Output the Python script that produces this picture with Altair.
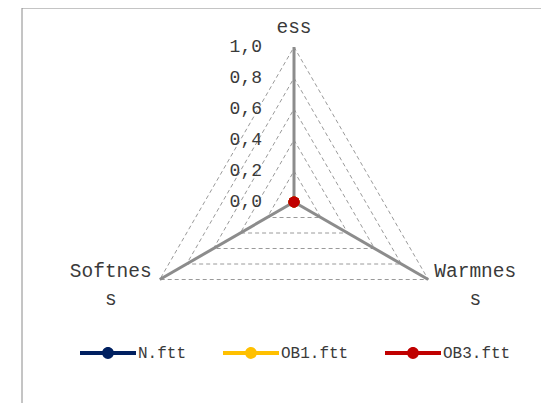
import altair as alt
import pandas as pd

# ---------------- data ----------------
categories = ["ess", "Warmness", "Softness"]          # clockwise from top
series_names = ["N.ftt", "OB1.ftt", "OB3.ftt"]
series_colors = ["#002060", "#FFC000", "#C00000"]
n_ftt = [0.0, 0.0, 0.0]
ob1_ftt = [0.0, 0.0, 0.0]
ob3_ftt = [0.0, 0.0, 0.0]
tick_values = [0.0, 0.2, 0.4, 0.6, 0.8, 1.0]

# ---------------- layout ----------------
W, H = 519, 395          # plot area
CX, CY = 272, 194        # centre of the radar, pixels inside plot
R = 155                  # pixel radius of 1.0
FONT = "Liberation Mono"
TXT = "#3a3a3a"
GRID = "#9a9a9a"
SPOKE = "#8c8c8c"

xs = alt.Scale(domain=[-CX / R, (W - CX) / R], nice=False, zero=False)
ys = alt.Scale(domain=[-(H - CY) / R, CY / R], nice=False, zero=False)
n = len(categories)

# grid rows (closed triangles)
grid_rows = []
for lv in tick_values[1:]:
    for k in range(n + 1):
        grid_rows.append({"level": lv, "idx": k % n, "ord": k})
grid_df = pd.DataFrame(grid_rows)

spoke_df = pd.DataFrame({"cat": categories, "idx": list(range(n))})

vals = {"N.ftt": n_ftt, "OB1.ftt": ob1_ftt, "OB3.ftt": ob3_ftt}
ser_rows = []
for s in series_names:
    for k in range(n + 1):
        ser_rows.append({"series": s, "idx": k % n, "ord": k, "value": vals[s][k % n]})
ser_df = pd.DataFrame(ser_rows)

tick_df = pd.DataFrame({"v": tick_values})

PI2 = "2*PI/%d" % n

def polar(r_expr):
    return dict(
        x=f"({r_expr})*sin(datum.idx*{PI2})",
        y=f"({r_expr})*cos(datum.idx*{PI2})",
    )

grid = (
    alt.Chart(grid_df)
    .transform_calculate(**polar("datum.level"))
    .mark_line(stroke=GRID, strokeWidth=1, strokeDash=[4, 3])
    .encode(
        x=alt.X("x:Q", scale=xs, axis=None),
        y=alt.Y("y:Q", scale=ys, axis=None),
        detail="level:N",
        order="ord:Q",
    )
)

spokes = (
    alt.Chart(spoke_df)
    .transform_calculate(x0="0", y0="0", **polar("1"))
    .mark_rule(stroke=SPOKE, strokeWidth=3)
    .encode(
        x=alt.X("x0:Q", scale=xs, axis=None),
        y=alt.Y("y0:Q", scale=ys, axis=None),
        x2="x:Q",
        y2="y:Q",
    )
)

tick_text = (
    alt.Chart(tick_df)
    .transform_calculate(x0="0", lab="replace(format(datum.v, '.1f'), '.', ',')")
    .mark_text(font=FONT, fontSize=18, color=TXT, align="right", baseline="middle", dx=-32)
    .encode(
        x=alt.X("x0:Q", scale=xs, axis=None),
        y=alt.Y("v:Q", scale=ys, axis=None),
        text="lab:N",
    )
)

def cat_label(cat, dx, dy):
    return (
        alt.Chart(spoke_df)
        .transform_filter(alt.datum.cat == cat)
        .transform_calculate(
            lab="length(datum.cat) > 7 ? substring(datum.cat, 0, 7) + '\\n' + substring(datum.cat, 7) : datum.cat",
            **polar("1"),
        )
        .mark_text(font=FONT, fontSize=19.5, color=TXT, align="center",
                   baseline="alphabetic", lineBreak="\n", lineHeight=28, dx=dx, dy=dy)
        .encode(
            x=alt.X("x:Q", scale=xs, axis=None),
            y=alt.Y("y:Q", scale=ys, axis=None),
            text="lab:N",
        )
    )

lab_top = cat_label(categories[0], 0, -14)
lab_right = cat_label(categories[1], 47, -3)
lab_left = cat_label(categories[2], -49, -3)

color_scale = alt.Scale(domain=series_names, range=series_colors)

ser_lines = (
    alt.Chart(ser_df)
    .transform_calculate(**polar("datum.value"))
    .mark_line(strokeWidth=3)
    .encode(
        x=alt.X("x:Q", scale=xs, axis=None),
        y=alt.Y("y:Q", scale=ys, axis=None),
        color=alt.Color("series:N", scale=color_scale, legend=None),
        detail="series:N",
        order="ord:Q",
    )
)

legend_path = ("M-1,-0.075L1,-0.075L1,0.075L-1,0.075Z "
               "M0.21,0A0.21,0.21,0,1,1,-0.21,0A0.21,0.21,0,1,1,0.21,0Z")

ser_points = (
    alt.Chart(ser_df)
    .transform_filter("datum.ord < %d" % n)
    .transform_calculate(**polar("datum.value"))
    .mark_circle(size=120, opacity=1)
    .encode(
        x=alt.X("x:Q", scale=xs, axis=None),
        y=alt.Y("y:Q", scale=ys, axis=None),
        color=alt.Color(
            "series:N",
            scale=color_scale,
            sort=series_names,
            legend=alt.Legend(
                title=None,
                orient="none",
                direction="horizontal",
                legendX=58,
                legendY=317,
                padding=0,
                symbolType=legend_path,
                symbolSize=3136,
                symbolStrokeWidth=0,
                symbolOpacity=1,
                labelFont=FONT,
                labelFontSize=16,
                labelColor=TXT,
                labelOffset=2,
                columnPadding=36,
            ),
        ),
        order=alt.Order("series:N"),
    )
)

frame = alt.Chart(alt.Data(values=[{}])).mark_rule(stroke="#8a8a8a", strokeWidth=1)
frame_left = frame.encode(x=alt.value(0), y=alt.value(0), y2=alt.value(H))
frame_top = frame.encode(x=alt.value(0), x2=alt.value(W), y=alt.value(0))

chart = (
    alt.layer(frame_left, frame_top, grid, spokes, ser_lines, ser_points,
              tick_text, lab_top, lab_right, lab_left)
    .resolve_scale(color="independent")
    .properties(
        width=W,
        height=H,
        autosize=alt.AutoSizeParams(type="none"),
        padding={"left": 14, "top": 0, "right": 0, "bottom": 0},
    )
    .configure_view(stroke=None)
)

chart.save("out.html", embed_options={"renderer": "svg", "actions": False})
